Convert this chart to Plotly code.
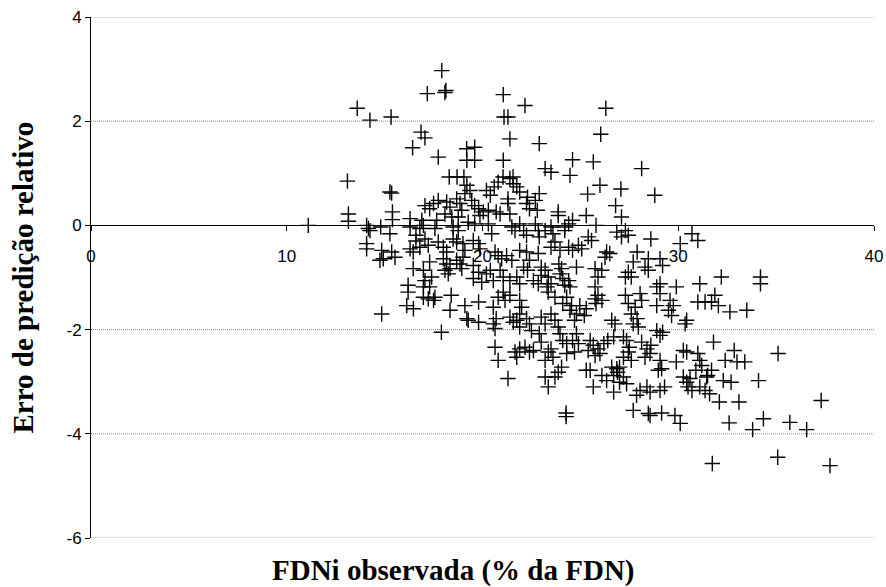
import plotly.graph_objects as go

# FDNi observada (% da FDN) and erro de predição relativo
fdni_a = [17.92, 17.18, 18.13, 18.08, 13.6, 14.25, 15.33, 16.86, 17.06, 16.43, 17.74, 19.19, 19.2, 18.3, 18.7, 19.05]
erro_a = [2.97, 2.53, 2.59, 2.55, 2.25, 2.02, 2.08, 1.79, 1.68, 1.49, 1.31, 1.47, 1.25, 0.93, 0.93, 0.93]

fdni_b = [21.06, 22.17, 21.3, 21.1, 26.3, 21.4, 22.9, 26.04, 19.6, 19.6, 21.06, 24.6, 25.66, 28.13, 23.2, 23.5, 24.47, 21.05, 21.56, 21.4]
erro_b = [2.51, 2.30, 2.08, 2.08, 2.25, 1.66, 1.57, 1.75, 1.5, 1.25, 1.25, 1.26, 1.22, 1.09, 1.09, 1.02, 0.96, 0.93, 0.93, 0.9]

fdni_c = [13.1, 15.27, 15.36, 11.1, 13.15, 13.15, 14.08, 14.17, 14.25, 14.8, 15.4, 15.4, 15.27, 16.3,
          16.3, 16.6, 14.08, 14.08, 14.85, 14.93, 14.76, 15.36, 15.53, 16.3, 16.46, 16.46, 16.2, 16.6]
erro_c = [0.85, 0.64, 0.62, 0.0, 0.22, 0.08, 0.0, -0.06, -0.1, -0.03, 0.26, 0.11, -0.16, 0.13,
          -0.03, -0.19, -0.35, -0.45, -0.48, -0.64, -0.67, -0.51, -0.61, -0.45, -0.51, -0.83, -1.15, -0.3]

fdni_d = [19.2, 19.1, 19.36, 20.2, 20.4, 20.8, 20.6, 21.57, 21.75, 21.9, 21.3, 22.3, 22.25, 22.4, 22.7,
          22.8, 22.9, 17.5, 17.3, 17.06, 17.74, 18.17, 18.34, 18.08, 18.43, 18.68, 18.85, 18.94, 18.76, 19.45,
          19.6, 19.8, 19.87, 20.04, 20.3, 20.7, 20.9, 21.3, 21.4, 16.9, 16.98, 16.8, 17.66, 17.57, 18.5,
          18.76, 19.27, 19.6, 20.3, 20.47, 21.5, 21.66, 21.9, 22.1, 22.25, 22.7, 22.85, 22.9, 17.06, 17.23,
          16.8, 17.74, 18.0, 18.17, 18.5, 18.68, 19.0, 19.1, 19.53, 19.8, 19.87, 20.64, 20.8, 20.98, 21.23,
          21.5, 21.9, 22.25, 22.4, 22.85, 23.0, 23.0, 17.3, 16.98, 17.4, 17.06, 18.0, 18.17, 18.34, 18.08,
          18.25, 18.68, 18.85, 18.94, 19.0, 19.53, 19.8, 19.53, 19.96, 20.2, 20.4, 20.55, 20.9, 21.06, 21.4,
          21.75, 21.9, 22.1, 22.3, 22.6, 22.85, 17.3, 16.98]
erro_d = [0.77, 0.61, 0.67, 0.67, 0.58, 0.83, 0.74, 0.8, 0.74, 0.64, 0.51, 0.54, 0.42, 0.32, 0.48,
          0.29, 0.61, 0.42, 0.32, 0.38, 0.48, 0.45, 0.35, 0.22, 0.16, 0.51, 0.42, 0.29, 0.16, 0.48,
          0.38, 0.32, 0.19, 0.26, 0.29, 0.26, 0.22, 0.42, 0.22, 0.1, 0.0, -0.06, 0.1, -0.06, -0.03,
          -0.1, 0.06, 0.03, 0.03, -0.16, -0.03, -0.1, 0.03, -0.1, -0.19, 0.03, -0.1, -0.22, -0.26, -0.38,
          -0.42, -0.32, -0.42, -0.51, -0.26, -0.32, -0.35, -0.48, -0.29, -0.35, -0.45, -0.51, -0.58, -0.64, -0.58,
          -0.67, -0.48, -0.51, -0.67, -0.54, -0.8, -0.96, -0.7, -0.86, -0.99, -1.06, -0.64, -0.74, -0.83, -0.86,
          -0.93, -0.67, -0.74, -0.83, -0.61, -0.77, -0.9, -1.02, -1.09, -0.93, -0.86, -1.06, -0.86, -0.99, -1.06,
          -0.99, -1.12, -0.8, -0.86, -1.06, -1.12, -1.18, -1.18]

fdni_e = [26.0, 27.07, 25.37, 28.8, 26.8, 25.3, 27.1, 25.8, 23.87, 23.87, 24.6, 24.4, 24.2, 24.2, 23.5,
          23.2, 23.6, 26.86, 27.3, 27.45, 27.1, 28.6, 25.57, 25.4, 24.9, 25.07, 24.6, 24.4, 23.7, 23.5,
          23.96, 26.34, 26.26, 26.5, 27.9, 28.47, 29.07, 29.2, 28.3, 28.47, 27.7, 27.45, 27.3, 27.6, 25.75,
          26.09, 25.9, 24.8, 23.9, 24.04, 23.96, 24.1, 24.4, 23.2, 23.36, 23.5, 23.3, 29.07, 28.9, 24.2,
          24.47, 25.75]
erro_e = [0.77, 0.70, 0.6, 0.58, 0.38, 0.19, 0.16, 0.0, 0.26, 0.19, 0.1, 0.03, -0.03, -0.1, -0.03,
          -0.1, -0.16, -0.13, -0.1, -0.19, -0.22, -0.26, -0.29, -0.22, -0.38, -0.45, -0.48, -0.42, -0.32, -0.42,
          -0.48, -0.51, -0.61, -0.54, -0.51, -0.64, -0.64, -0.77, -0.8, -0.86, -0.7, -0.9, -0.99, -0.99, -0.83,
          -0.86, -0.99, -0.8, -0.74, -0.83, -0.93, -1.02, -1.06, -0.86, -0.99, -1.12, -1.18, -1.12, -1.18, -1.15,
          -1.18, -1.18]

fdni_f = [30.1, 30.7, 31.0, 29.9, 31.1, 32.2, 34.2, 34.2]
erro_f = [-0.35, -0.16, -0.29, -1.18, -1.12, -0.99, -0.99, -1.12]

fdni_g = [14.85, 16.2, 16.13, 16.47, 16.98, 17.23, 17.5, 17.57, 17.9]
erro_g = [-1.7, -1.28, -1.54, -1.6, -1.38, -1.41, -1.44, -1.38, -2.05]

fdni_h = [18.4, 18.34, 19.1, 19.2, 19.27, 19.8, 19.8, 20.55, 20.55, 20.64, 20.7, 20.64, 20.8, 21.3, 21.66,
          21.75, 21.9, 22.17, 22.4, 22.6, 21.06, 21.15, 21.4, 20.8, 21.9, 22.0, 21.9, 21.75, 21.9, 21.4,
          21.57, 22.25, 22.4, 22.5, 23.0, 23.2, 22.9, 23.0, 23.5, 23.7, 23.87, 23.96, 24.1, 23.36, 23.7,
          24.1, 24.3, 23.36, 23.5, 23.2, 23.6, 24.04, 23.87, 23.7, 23.2, 23.36, 24.3, 24.3]
erro_h = [-1.34, -1.63, -1.54, -1.79, -1.82, -1.47, -1.86, -1.57, -1.89, -1.98, -1.79, -2.34, -2.59, -2.94, -2.43,
          -2.53, -2.37, -2.34, -2.43, -2.4, -1.28, -1.44, -1.34, -1.38, -1.44, -1.57, -1.7, -1.82, -1.95, -1.76,
          -1.86, -1.79, -1.89, -2.02, -1.76, -1.89, -2.08, -2.24, -1.7, -1.82, -1.95, -2.08, -2.21, -1.28, -1.38,
          -1.5, -1.38, -2.43, -2.37, -2.59, -2.53, -2.72, -2.82, -2.91, -2.91, -3.1, -2.27, -2.46]

fdni_i = [25.9, 25.75, 26.1, 25.8, 24.97, 25.3, 25.2, 24.8, 24.7, 24.55, 24.47, 27.3, 27.45, 27.8, 27.6,
          27.9, 27.7, 27.96, 28.05, 28.13, 29.07, 28.9, 29.58, 29.75, 29.5, 29.66, 30.43, 30.35, 26.6, 26.77,
          26.7, 26.4, 26.2, 25.9, 26.0, 24.8, 24.6, 24.9, 24.7, 25.5, 25.66, 25.4, 25.75, 27.2, 27.36,
          27.5, 27.45, 27.2, 27.6, 28.13, 28.4, 28.6, 28.56, 28.3, 28.9, 29.07, 29.2, 30.26, 30.43, 29.07,
          29.15, 28.98, 29.9, 25.3, 25.5, 26.6, 26.86, 27.0, 26.9, 26.7, 27.2, 27.0, 27.36, 26.1, 26.34,
          25.66, 26.7, 28.05, 28.4, 28.56, 27.87, 29.07, 29.3, 30.26, 30.43, 30.6, 30.5, 30.7]
erro_i = [-1.34, -1.41, -1.44, -1.5, -1.54, -1.6, -1.73, -1.7, -1.82, -1.54, -1.63, -1.34, -1.5, -1.57, -1.7,
          -1.79, -1.89, -1.95, -1.31, -1.44, -1.31, -1.54, -1.44, -1.54, -1.63, -1.73, -1.82, -1.89, -1.82, -1.89,
          -2.14, -2.21, -2.27, -2.37, -2.46, -2.08, -2.21, -2.27, -2.43, -2.21, -2.3, -2.4, -2.5, -2.14, -2.21,
          -2.34, -2.43, -2.53, -2.59, -2.24, -2.37, -2.3, -2.46, -2.53, -2.02, -2.11, -2.05, -2.4, -2.43, -2.59,
          -2.75, -2.78, -2.62, -2.78, -2.78, -2.72, -2.75, -2.72, -2.82, -2.88, -2.91, -3.01, -3.04, -2.88, -2.98,
          -3.1, -3.2, -3.17, -3.1, -3.2, -3.26, -3.17, -3.1, -2.91, -3.01, -2.94, -3.1, -3.17]

fdni_j = [31.87, 31.7, 32.05, 31.0, 31.37, 32.64, 33.5, 31.8, 32.86, 35.1, 32.4, 33.0, 33.4, 31.0, 31.1,
          31.2, 30.9, 31.7, 31.45, 31.5, 32.3, 32.7, 34.1, 31.1, 31.37, 31.6]
erro_j = [-1.34, -1.47, -1.54, -1.47, -1.47, -1.66, -1.63, -2.24, -2.4, -2.46, -2.59, -2.62, -2.62, -2.46, -2.59,
          -2.69, -2.78, -2.78, -2.91, -2.88, -2.98, -3.01, -2.98, -3.1, -3.17, -3.23]

fdni_k = [24.27, 24.27, 27.7, 28.47, 28.56, 29.15, 29.83, 30.1,
          32.1, 33.1, 37.3, 32.6, 34.35, 33.8, 35.7, 36.56, 31.74, 35.08, 37.75]
erro_k = [-3.6, -3.67, -3.55, -3.61, -3.65, -3.6, -3.65, -3.8,
          -3.39, -3.39, -3.36, -3.79, -3.71, -3.92, -3.78, -3.92, -4.57, -4.45, -4.61]

fdni = fdni_a + fdni_b + fdni_c + fdni_d + fdni_e + fdni_f + fdni_g + fdni_h + fdni_i + fdni_j + fdni_k
erro = erro_a + erro_b + erro_c + erro_d + erro_e + erro_f + erro_g + erro_h + erro_i + erro_j + erro_k
for a, b in [(fdni_a, erro_a), (fdni_b, erro_b), (fdni_c, erro_c), (fdni_d, erro_d), (fdni_e, erro_e),
             (fdni_f, erro_f), (fdni_g, erro_g), (fdni_h, erro_h), (fdni_i, erro_i), (fdni_j, erro_j),
             (fdni_k, erro_k)]:
    assert len(a) == len(b), (len(a), len(b))

x_ticks = [0, 10, 20, 30, 40]
y_ticks = [-6, -4, -2, 0, 2, 4]
x_range = [0, 40]
y_range = [-6, 4]

fig = go.Figure()
fig.add_trace(go.Scatter(
    x=fdni, y=erro, mode="markers",
    marker=dict(symbol="cross-thin", size=11, color="black",
                line=dict(color="black", width=1.4)),
    hoverinfo="x+y", showlegend=False,
))

# dotted horizontal gridlines (including the top and bottom ones)
shapes = [dict(type="line", xref="x", yref="y", x0=x_range[0], x1=x_range[1], y0=v, y1=v,
               line=dict(color="#8a8a8a", width=1, dash="1px,1px"), layer="below")
          for v in y_ticks if v != 0]

W, H = 886, 587
L, R, T, B = 91, 12, 17, 49
tick_font = dict(family="Liberation Sans, Arial, sans-serif", size=17, color="black")
title_font = dict(family="Liberation Serif, Times New Roman, serif", size=29, color="black")
fig.update_layout(
    width=W, height=H,
    margin=dict(l=L, r=R, t=T, b=B, pad=0),
    paper_bgcolor="white", plot_bgcolor="white",
    shapes=shapes,
    xaxis=dict(range=x_range, tickvals=x_ticks, ticktext=[str(v) for v in x_ticks],
               anchor="free", position=0.6, showline=True, linecolor="black", linewidth=1,
               ticks="outside", ticklen=5, tickcolor="black", showgrid=False, zeroline=False,
               ticklabelstandoff=10, automargin=False, tickfont=tick_font),
    yaxis=dict(range=y_range, tickvals=y_ticks, ticktext=[str(v) for v in y_ticks],
               showline=True, linecolor="black", linewidth=1,
               ticks="outside", ticklen=5, tickcolor="black",
               showgrid=False, zeroline=False, automargin=False, tickfont=tick_font),
    annotations=[
        dict(text="<b>FDNi observada (% da FDN)</b>", xref="paper", yref="paper",
             x=(453 - L) / (W - L - R), y=-(570 - (H - B)) / (H - T - B),
             showarrow=False, xanchor="center", yanchor="middle", font=title_font),
        dict(text="<b>Erro de predição relativo</b>", xref="paper", yref="paper",
             x=-(L - 22) / (W - L - R), y=0.5, textangle=-90,
             showarrow=False, xanchor="center", yanchor="middle", font=title_font),
    ],
)

fig.write_html("out.html", config={"displayModeBar": False},
               post_script="document.body.style.margin='0';")
